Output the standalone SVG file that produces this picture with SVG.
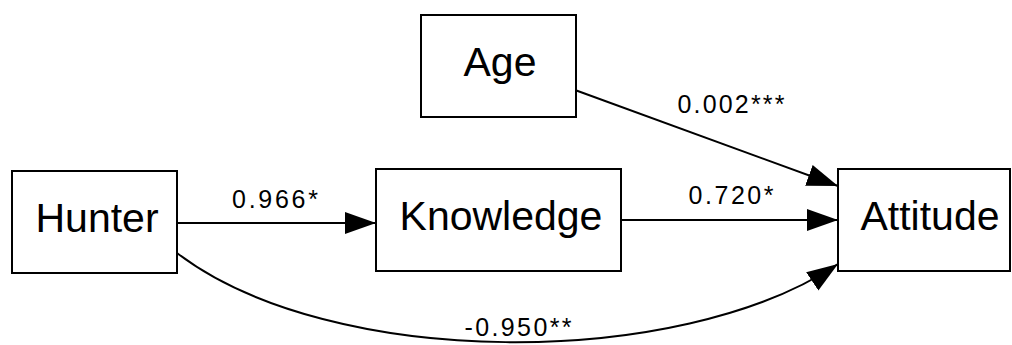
<svg xmlns="http://www.w3.org/2000/svg" width="1012" height="345" viewBox="0 0 1012 345">
  <style>
    .box { fill: #fff; stroke: #000; stroke-width: 2; }
    .node-label { font-family: "Liberation Sans", Arial, sans-serif; font-size: 41px; fill: #000; text-anchor: middle; }
    .edge { fill: none; stroke: #000; stroke-width: 2; }
    .edge-label { font-family: "Liberation Sans", Arial, sans-serif; font-size: 25px; fill: #000; text-anchor: middle; }
  </style>
  <defs>
    <marker id="arrow" markerUnits="userSpaceOnUse" markerWidth="32" markerHeight="24" refX="31" refY="11" orient="auto">
      <path d="M0,0 L31,11 L0,22 Z" fill="#000"/>
    </marker>
  </defs>
  <rect width="1012" height="345" fill="#fff"/>

  <!-- connectors -->
  <g id="edges">
    <g id="edge-hunter-knowledge">
      <path class="edge" d="M177,223 L376,223" marker-end="url(#arrow)"/>
      <text class="edge-label" x="275" y="208" textLength="86" lengthAdjust="spacing">0.966*</text>
    </g>
    <g id="edge-knowledge-attitude">
      <path class="edge" d="M621,220 L838,220" marker-end="url(#arrow)"/>
      <text class="edge-label" x="731" y="204" textLength="85" lengthAdjust="spacing">0.720*</text>
    </g>
    <g id="edge-age-attitude">
      <path class="edge" d="M575,90 L838,186" marker-end="url(#arrow)"/>
      <text class="edge-label" x="731" y="113" textLength="107" lengthAdjust="spacing">0.002***</text>
    </g>
    <g id="edge-hunter-attitude">
      <path class="edge" d="M177,253 C330,370 680,370 838,264" marker-end="url(#arrow)"/>
      <text class="edge-label" x="518" y="336" textLength="107" lengthAdjust="spacing">-0.950**</text>
    </g>
  </g>

  <!-- nodes -->
  <g id="node-age">
    <rect class="box" x="421" y="15" width="155" height="102"/>
    <text class="node-label" x="500" y="76">Age</text>
  </g>
  <g id="node-hunter">
    <rect class="box" x="12" y="171" width="165" height="102"/>
    <text class="node-label" x="97" y="232">Hunter</text>
  </g>
  <g id="node-knowledge">
    <rect class="box" x="376" y="169" width="245" height="102"/>
    <text class="node-label" x="501" y="230">Knowledge</text>
  </g>
  <g id="node-attitude">
    <rect class="box" x="838" y="169" width="172" height="102"/>
    <text class="node-label" x="930" y="230">Attitude</text>
  </g>
</svg>
